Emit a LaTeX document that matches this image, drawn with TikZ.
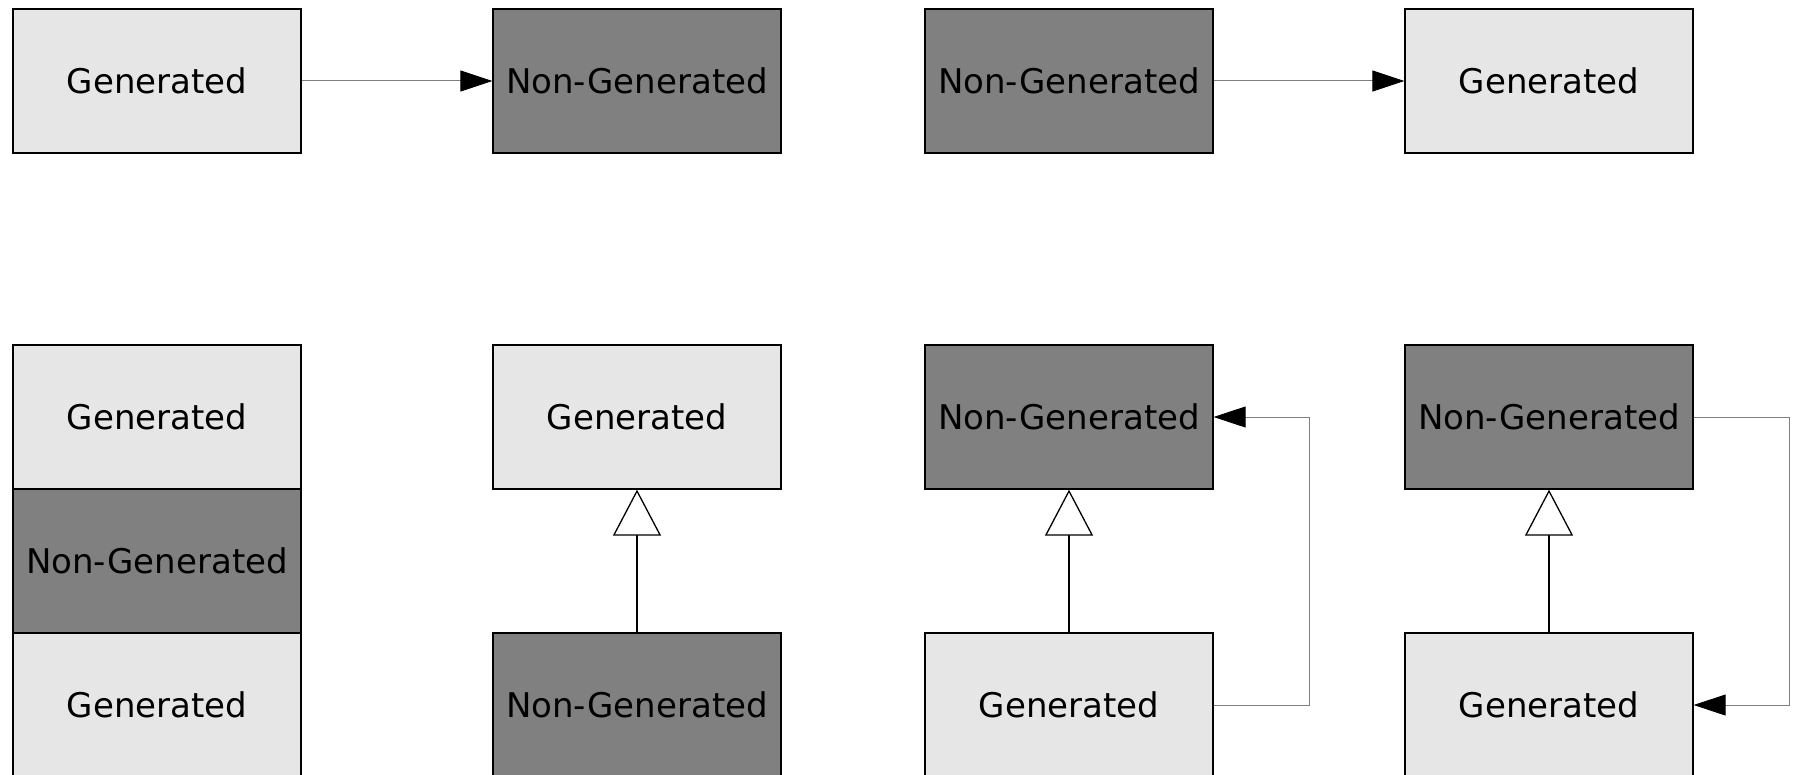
\documentclass[tikz,border=0pt]{standalone}
\usepackage{fontspec}
\setmainfont{DejaVu Sans}
\usetikzlibrary{arrows.meta}
\definecolor{genfill}{HTML}{E6E6E6}
\definecolor{ngfill}{HTML}{808080}
\definecolor{conngray}{HTML}{808080}
\tikzset{
  box/.style={draw=black, line width=1.3pt, minimum width=288pt, minimum height=144pt, inner sep=0pt, font=\fontsize{34}{40}\selectfont, text=black},
  genbox/.style={box, fill=genfill},
  ngbox/.style={box, fill=ngfill},
  conn/.style={draw=conngray, line width=1pt, -{Triangle[length=32pt,width=21pt,fill=black,color=black]}},
  inherit/.style={draw=black, line width=1.3pt, -{Triangle[length=46pt,width=48pt,fill=white,line join=miter]}}
}
\begin{document}
\begin{tikzpicture}[x=1pt,y=-1pt]
\clip (0,0) rectangle (1798,775);
\fill[white] (0,0) rectangle (1798,775);
% top row
\node[genbox] (g1) at (157,81) {Generated};
\node[ngbox]  (n1) at (637,81) {Non-Generated};
\node[ngbox]  (n2) at (1069,81) {Non-Generated};
\node[genbox] (g2) at (1549,81) {Generated};
\draw[conn] (g1.east) -- (n1.west);
\draw[conn] (n2.east) -- (g2.west);
% bottom row, column 1 (stack)
\node[genbox] (s1) at (157,417) {Generated};
\node[ngbox]  (s2) at (157,561) {Non-Generated};
\node[genbox] (s3) at (157,705) {Generated};
% column 2
\node[genbox] (gt2) at (637,417) {Generated};
\node[ngbox]  (nb2) at (637,705) {Non-Generated};
\draw[inherit] (nb2.north) -- (gt2.south);
% column 3
\node[ngbox]  (nt3) at (1069,417) {Non-Generated};
\node[genbox] (gb3) at (1069,705) {Generated};
\draw[inherit] (gb3.north) -- (nt3.south);
\draw[conn] (gb3.east) -- ++(96,0) |- (nt3.east);
% column 4
\node[ngbox]  (nt4) at (1549,417) {Non-Generated};
\node[genbox] (gb4) at (1549,705) {Generated};
\draw[inherit] (gb4.north) -- (nt4.south);
\draw[conn] (nt4.east) -- ++(96,0) |- (gb4.east);
\end{tikzpicture}
\end{document}
